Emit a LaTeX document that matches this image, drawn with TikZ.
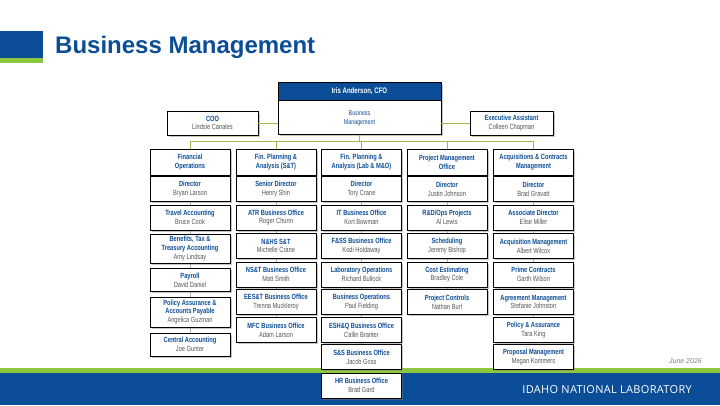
\documentclass[tikz,border=0pt]{standalone}
\usepackage{fontspec}
\setmainfont{Liberation Sans}
\newfontfamily\boxfont[FakeStretch=0.76]{Liberation Sans}
\newfontfamily\inlfont[LetterSpace=3]{Open Sans}
\usetikzlibrary{positioning, shadows, backgrounds}
\definecolor{inlblue}{HTML}{0B4D96}
\definecolor{inlgreen}{HTML}{8DC63F}
\definecolor{linkgreen}{HTML}{9DBB4A}
\definecolor{namegray}{HTML}{555555}
\newcommand{\ttl}[1]{{\bfseries\color{inlblue}#1}}

\begin{document}
\begin{tikzpicture}[x=1pt, y=-1pt,
    unit/.style={rectangle, draw=black, line width=0.8pt, fill=white, minimum width=80pt, minimum height=25pt, inner sep=0pt, align=center, text=namegray, font=\boxfont\fontsize{7.5}{8.8}\selectfont, drop shadow={shadow xshift=1.5pt, shadow yshift=-1.5pt, opacity=0.45}},
    head/.style={unit, minimum height=26pt},
    cfohead/.style={unit, fill=inlblue, text=white, minimum width=163pt, minimum height=18pt, font=\boxfont\bfseries\fontsize{8}{9}\selectfont},
    link/.style={draw=linkgreen, line width=1pt},
    colline/.style={draw=gray!60, line width=0.6pt}]

    \useasboundingbox (0,0) rectangle (720,405);

    % Title and bands
    \fill [inlblue] (0,31) rectangle (43,58);
    \fill [inlgreen] (0,58) rectangle (43,63);
    \node [anchor=base west, inner sep=0pt, text=inlblue, font=\bfseries\fontsize{24}{28}\selectfont] at (55,53) (title) {Business Management};
    \fill [inlgreen] (0,368) rectangle (720,373);
    \fill [inlblue] (0,373) rectangle (720,405);
    \node [anchor=east, inner sep=0pt, text=white, font=\inlfont\fontsize{11}{13}\selectfont] at (692,390) (inl) {IDAHO NATIONAL LABORATORY};
    \node [anchor=east, inner sep=0pt, text=gray, font=\itshape\fontsize{7}{8}\selectfont] at (702,361) (date) {June 2026};

    % Top
    \node [cfohead] at (359.5,91) (cfohead) {Iris Anderson, CFO};
    \node [unit, minimum width=163pt, minimum height=34pt, text=inlblue, font=\boxfont\fontsize{7}{9}\selectfont, below=0pt of cfohead] (cfo) {Business\\Management};
    \node [unit, minimum width=91pt, minimum height=24pt] at (212.5,123) (coo) {\ttl{COO}\\Lindsie Canales};
    \node [unit, minimum width=83pt, minimum height=24pt] at (511.5,123) (exec) {\ttl{Executive Assistant}\\Colleen Chapman};

    % Financial Operations
    \node [head] at (190,162) (c1h) {\ttl{Financial}\\\ttl{Operations}};
    \node [unit] at (190,189) (c1d) {\ttl{Director}\\Bryan Larson};
    \node [unit] at (190,217.5) (c1a) {\ttl{Travel Accounting}\\Bruce Cook};
    \node [unit, minimum height=29pt] at (190,248.5) (c1b) {\ttl{Benefits, Tax \&}\\\ttl{Treasury Accounting}\\Amy Lindsay};
    \node [unit, minimum height=23pt] at (190,280) (c1c) {\ttl{Payroll}\\David Daniel};
    \node [unit, minimum height=30pt] at (190,312) (c1e) {\ttl{Policy Assurance \&}\\\ttl{Accounts Payable}\\Angelica Guzman};
    \node [unit, minimum height=23pt] at (190,344.5) (c1f) {\ttl{Central Accounting}\\Joe Gunter};

    % Fin. Planning (S&T)
    \node [head] at (276,162) (c2h) {\ttl{Fin. Planning \&}\\\ttl{Analysis (S\&T)}};
    \node [unit] at (276,189) (c2d) {\ttl{Senior Director}\\Henry Shin};
    \node [unit] at (276,217.5) (c2a) {\ttl{ATR Business Office}\\Roger Chunn};
    \node [unit] at (276,246) (c2b) {\ttl{N\&HS S\&T}\\Michelle Crane};
    \node [unit] at (276,274.5) (c2c) {\ttl{NS\&T Business Office}\\Matt Smith};
    \node [unit] at (276,302) (c2e) {\ttl{EES\&T Business Office}\\Trenna Muckleroy};
    \node [unit] at (276,330) (c2f) {\ttl{MFC Business Office}\\Adam Larson};

    % Fin. Planning (Lab & M&O)
    \node [head] at (361.5,162) (c3h) {\ttl{Fin. Planning \&}\\\ttl{Analysis (Lab \& M\&O)}};
    \node [unit] at (361.5,189) (c3d) {\ttl{Director}\\Tory Crane};
    \node [unit] at (361.5,217.5) (c3a) {\ttl{IT Business Office}\\Kort Bowman};
    \node [unit] at (361.5,246) (c3b) {\ttl{F\&SS Business Office}\\Kodi Holdaway};
    \node [unit] at (361.5,274.5) (c3c) {\ttl{Laboratory Operations}\\Richard Bullock};
    \node [unit] at (361.5,302) (c3e) {\ttl{Business Operations}\\Paul Fielding};
    \node [unit] at (361.5,330) (c3f) {\ttl{ESH\&Q Business Office}\\Callin Branter};
    \node [unit] at (361.5,357) (c3g) {\ttl{S\&S Business Office}\\Jacob Goss};
    \node [unit] at (361.5,385.5) (c3i) {\ttl{HR Business Office}\\Brad Gard};

    % Project Management Office
    \node [head] at (447,162) (c4h) {\ttl{Project Management}\\\ttl{Office}};
    \node [unit] at (447,189) (c4d) {\ttl{Director}\\Justin Johnson};
    \node [unit] at (447,217.5) (c4a) {\ttl{R\&D/Ops Projects}\\Al Lewis};
    \node [unit] at (447,246) (c4b) {\ttl{Scheduling}\\Jeremy Bishop};
    \node [unit] at (447,274.5) (c4c) {\ttl{Cost Estimating}\\Bradley Cole};
    \node [unit] at (447,302) (c4e) {\ttl{Project Controls}\\Nathan Burt};

    % Acquisitions & Contracts
    \node [head] at (533.5,162) (c5h) {\ttl{Acquisitions \& Contracts}\\\ttl{Management}};
    \node [unit] at (533.5,189) (c5d) {\ttl{Director}\\Brad Gravatt};
    \node [unit] at (533.5,217.5) (c5a) {\ttl{Associate Director}\\Elise Miller};
    \node [unit] at (533.5,246) (c5b) {\ttl{Acquisition Management}\\Albert Wilcox};
    \node [unit] at (533.5,274.5) (c5c) {\ttl{Prime Contracts}\\Garth Wilson};
    \node [unit] at (533.5,302) (c5e) {\ttl{Agreement Management}\\Stefanie Johnston};
    \node [unit] at (533.5,330) (c5f) {\ttl{Policy \& Assurance}\\Tara King};
    \node [unit] at (533.5,357) (c5g) {\ttl{Proposal Management}\\Megan Kommers};

    % Links
    \coordinate (bus) at (359.5,141);
    \draw [link] (coo.east) -- (coo.east -| cfo.west);
    \draw [link] (exec.west) -- (exec.west -| cfo.east);
    \draw [link] (cfo.south) -- (bus);
    \draw [link] (bus -| c1h) -- (bus -| c5h);
    \foreach \c in {c1h, c2h, c3h, c4h, c5h}
        \draw [link] (bus -| \c) -- (\c.north);

    \begin{scope}[on background layer]
        \draw [colline] (c1h) -- (c1f);
        \draw [colline] (c2h) -- (c2f);
        \draw [colline] (c3h) -- (c3i);
        \draw [colline] (c4h) -- (c4e);
        \draw [colline] (c5h) -- (c5g);
    \end{scope}

\end{tikzpicture}
\end{document}
